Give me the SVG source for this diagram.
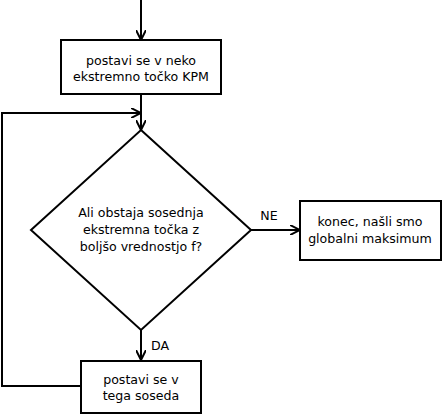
<svg xmlns="http://www.w3.org/2000/svg" width="442" height="415" viewBox="0 0 442 415">
<style>
.box{fill:#fff;stroke:#000;stroke-width:2}
.ln{fill:none;stroke:#000;stroke-width:2}
text{font-family:"DejaVu Sans",sans-serif;font-size:12.6px;fill:#000;text-anchor:middle}
</style>
<defs>
<marker id="arr" viewBox="0 0 10 10" refX="10" refY="5" markerWidth="10" markerHeight="10" markerUnits="userSpaceOnUse" orient="auto">
<path d="M0,0 L10,5 L0,10" fill="none" stroke="#000" stroke-width="2"/>
</marker>
</defs>
<rect width="442" height="415" fill="#fff"/>
<g id="connectors">
<line class="ln" x1="141" y1="0" x2="141" y2="40" marker-end="url(#arr)"/>
<line class="ln" x1="141" y1="94" x2="141" y2="130" marker-end="url(#arr)"/>
<polyline class="ln" points="81,386 2,386 2,113 141,113" marker-end="url(#arr)"/>
<line class="ln" x1="251" y1="230" x2="300" y2="230" marker-end="url(#arr)"/>
<line class="ln" x1="141" y1="330" x2="141" y2="360" marker-end="url(#arr)"/>
<text x="269" y="220">NE</text>
<text x="160" y="350">DA</text>
</g>
<g id="start">
<rect class="box" x="61" y="40" width="160" height="54"/>
<text x="141" y="65">postavi se v neko</text>
<text x="141" y="81">ekstremno točko KPM</text>
</g>
<g id="decision">
<polygon class="box" points="141,130 251,230 141,330 31,230"/>
<text x="141" y="217">Ali obstaja sosednja</text>
<text x="141" y="234">ekstremna točka z</text>
<text x="141" y="251">boljšo vrednostjo f?</text>
</g>
<g id="end">
<rect class="box" x="300" y="201" width="141" height="59"/>
<text x="370" y="226">konec, našli smo</text>
<text x="370" y="243">globalni maksimum</text>
</g>
<g id="step">
<rect class="box" x="81" y="361" width="120" height="52"/>
<text x="141" y="384">postavi se v</text>
<text x="141" y="400">tega soseda</text>
</g>
</svg>
